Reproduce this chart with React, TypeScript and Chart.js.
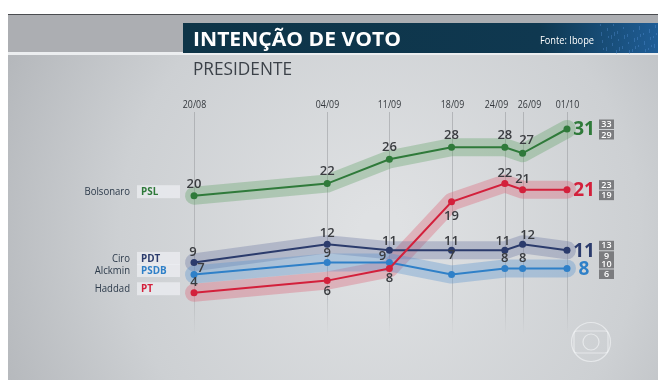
import React, { useEffect, useRef } from "react";
import { Chart, registerables } from "chart.js";

Chart.register(...registerables);

// ---- data ----
const dateLabels = ["20/08", "04/09", "11/09", "18/09", "24/09", "26/09", "01/10"];
const dayOffsets = [0, 15, 22, 29, 35, 37, 42]; // days since 20/08
const candidates = ["Bolsonaro", "Haddad", "Ciro", "Alckmin"];
const parties = ["PSL", "PT", "PDT", "PSDB"];
const bolsonaro = [20, 22, 26, 28, 28, 27, 31];
const haddad = [4, 6, 8, 19, 22, 21, 21];
const ciro = [9, 12, 11, 11, 11, 12, 11];
const alckmin = [7, 9, 9, 7, 8, 8, 8];
const upperBound = [33, 23, 13, 10];
const lowerBound = [29, 19, 9, 6];
const titleText = "INTENÇÃO DE VOTO";
const subtitleText = "PRESIDENTE";
const sourceText = "Fonte: Ibope";

// ---- styles ----
const lineColors = ["#2f7a3a", "#d3203b", "#2b3b6c", "#2f80c8"];
const bandColors = [
  "rgba(95,160,100,0.35)",
  "rgba(220,95,115,0.35)",
  "rgba(95,110,155,0.32)",
  "rgba(85,145,205,0.35)",
];
const dateLabelShift = [0, 0, 0, 0, -9, 6, 0];
// label offsets [dx, dy] per point (styling only)
const labelOffsets = [
  [[0, -11], [0, -12], [0, -12], [0, -12], [0, -12], [4, -13]],
  [[0, -10], [0, 11], [0, 10], [0, 15], [0, -10], [0, -10]],
  [[-1, -10], [0, -11], [0, -9], [0, -9], [-2, -9], [5, -9]],
  [[7, -6], [0, -9], [-7, -6], [0, -19], [0, -10], [0, -10]],
];

const seriesValues = [bolsonaro, haddad, ciro, alckmin];

function fitText(ctx: CanvasRenderingContext2D, text: string, x: number, y: number, width: number) {
  const w = ctx.measureText(text).width;
  const sx = width / w;
  ctx.save();
  ctx.translate(x, y);
  ctx.scale(sx, 1);
  ctx.textAlign = "left";
  ctx.fillText(text, 0, 0);
  ctx.restore();
}

function squeezeText(
  ctx: CanvasRenderingContext2D,
  text: string,
  x: number,
  y: number,
  sx: number,
  align: "left" | "right" | "center"
) {
  ctx.save();
  ctx.translate(x, y);
  ctx.scale(sx, 1);
  ctx.textAlign = align;
  ctx.fillText(text, 0, 0);
  ctx.restore();
}

const decoPlugin = {
  id: "deco",
  beforeDraw(chart: any) {
    const ctx: CanvasRenderingContext2D = chart.ctx;
    const W = chart.width;
    const H = chart.height;
    const xs = chart.scales.x;
    const ys = chart.scales.y;
    ctx.save();
    ctx.fillStyle = "#ffffff";
    ctx.fillRect(0, 0, W, H);
    const g = ctx.createRadialGradient(380, 230, 20, 380, 230, 420);
    g.addColorStop(0, "#dfe1e3");
    g.addColorStop(0.6, "#cdd0d3");
    g.addColorStop(1, "#b3b6ba");
    ctx.fillStyle = g;
    ctx.fillRect(8, 54, 650, 326);
    ctx.fillStyle = "#acaeb2";
    ctx.fillRect(8, 14, 650, 39);
    ctx.fillStyle = "#4a4c50";
    ctx.fillRect(8, 14, 650, 1);
    ctx.fillStyle = "#eceef0";
    ctx.fillRect(8, 52, 650, 3);
    const tg = ctx.createLinearGradient(183, 0, 658, 0);
    tg.addColorStop(0, "#0e3447");
    tg.addColorStop(0.75, "#0f3850");
    tg.addColorStop(1, "#1f5d96");
    ctx.fillStyle = tg;
    ctx.fillRect(183, 23, 475, 30);
    ctx.fillStyle = "rgba(90,150,220,0.35)";
    for (let i = 0; i < 40; i++) {
      const x = 600 + ((i * 37) % 58);
      const y = 24 + ((i * 13) % 27);
      ctx.fillRect(x, y, 1, 2 + (i % 3));
    }
    ctx.fillStyle = "#ffffff";
    ctx.textBaseline = "alphabetic";
    ctx.font = 'bold 19px "Open Sans", sans-serif';
    fitText(ctx, titleText, 193, 46, 208);
    ctx.font = '10px "Open Sans", sans-serif';
    ctx.textBaseline = "middle";
    fitText(ctx, sourceText, 540, 41.5, 54);
    ctx.textBaseline = "alphabetic";
    ctx.fillStyle = "#3b4148";
    ctx.font = '18px "Open Sans", sans-serif';
    fitText(ctx, subtitleText, 193, 75, 99);

    dayOffsets.forEach((d, i) => {
      const x = Math.round(xs.getPixelForValue(d)) + 0.5;
      const lg = ctx.createLinearGradient(0, 112, 0, 335);
      lg.addColorStop(0, "rgba(150,152,156,0.55)");
      lg.addColorStop(0.8, "rgba(150,152,156,0.45)");
      lg.addColorStop(1, "rgba(150,152,156,0)");
      ctx.strokeStyle = lg;
      ctx.lineWidth = 1;
      ctx.beginPath();
      ctx.moveTo(x, 112);
      ctx.lineTo(x, 335);
      ctx.stroke();
      ctx.fillStyle = "#33373c";
      ctx.font = '11px "Open Sans", sans-serif';
      ctx.textBaseline = "middle";
      squeezeText(ctx, dateLabels[i], x + dateLabelShift[i], 105, 0.8, "center");
    });

    seriesValues.forEach((vals, s) => {
      const y = ys.getPixelForValue(vals[0]) - 4;
      ctx.fillStyle = "rgba(236,238,241,0.75)";
      ctx.fillRect(137, y - 6.5, 43, 13);
      ctx.font = '11px "Open Sans", sans-serif';
      ctx.fillStyle = "#2c3a4a";
      ctx.textBaseline = "middle";
      squeezeText(ctx, candidates[s], 130, y, 0.87, "right");
      ctx.font = 'bold 11px "Open Sans", sans-serif';
      ctx.fillStyle = lineColors[s];
      squeezeText(ctx, parties[s], 141, y, 0.9, "left");
    });
    ctx.restore();
  },
  afterDatasetsDraw(chart: any) {
    const ctx: CanvasRenderingContext2D = chart.ctx;
    const xs = chart.scales.x;
    const ys = chart.scales.y;
    ctx.save();
    ctx.textBaseline = "middle";
    seriesValues.forEach((vals, s) => {
      ctx.font = '600 13px "Open Sans", sans-serif';
      ctx.fillStyle = "#3a3c40";
      ctx.textAlign = "center";
      for (let i = 0; i < vals.length - 1; i++) {
        const x = xs.getPixelForValue(dayOffsets[i]);
        const y = ys.getPixelForValue(vals[i]);
        const [dx, dy] = labelOffsets[s][i];
        ctx.fillText(String(vals[i]), x + dx, y + dy);
      }
      const last = vals.length - 1;
      const lx = xs.getPixelForValue(dayOffsets[last]);
      const ly = ys.getPixelForValue(vals[last]);
      ctx.font = 'bold 19px "Open Sans", sans-serif';
      ctx.fillStyle = lineColors[s];
      ctx.fillText(String(vals[last]), lx + 17, ly + 1);
      ctx.fillStyle = "#7b7c7f";
      ctx.fillRect(lx + 32, ly - 9.5, 15, 9.5);
      ctx.fillRect(lx + 32, ly + 1, 15, 9.5);
      ctx.fillStyle = "#ffffff";
      ctx.font = '600 9px "Open Sans", sans-serif';
      ctx.fillText(String(upperBound[s]), lx + 39.5, ly - 4.5);
      ctx.fillText(String(lowerBound[s]), lx + 39.5, ly + 6);
    });
    ctx.strokeStyle = "rgba(245,246,248,0.6)";
    ctx.lineWidth = 1.2;
    ctx.beginPath();
    ctx.arc(591, 342, 19.5, 0, Math.PI * 2);
    ctx.stroke();
    ctx.beginPath();
    (ctx as any).roundRect(574, 331, 34, 22, 3);
    ctx.stroke();
    ctx.beginPath();
    ctx.arc(591, 342, 8, 0, Math.PI * 2);
    ctx.stroke();
    ctx.restore();
  },
};

export default function App() {
  const ref = useRef<HTMLCanvasElement>(null);
  useEffect(() => {
    document.body.style.margin = "0";
    const toPts = (vals: number[]) => dayOffsets.map((d, i) => ({ x: d, y: vals[i] }));
    const bands = seriesValues.map((vals, s) => ({
      label: candidates[s] + " band",
      data: toPts(vals),
      borderColor: bandColors[s],
      borderWidth: 18,
      borderCapStyle: "round" as const,
      borderJoinStyle: "round" as const,
      pointRadius: 0,
      tension: 0,
      clip: false as any,
      order: 10 + (3 - s),
    }));
    const lines = seriesValues.map((vals, s) => ({
      label: candidates[s],
      data: toPts(vals),
      borderColor: lineColors[s],
      backgroundColor: lineColors[s],
      borderWidth: 2,
      pointRadius: 3.5,
      pointBorderWidth: 0,
      tension: 0,
      clip: false as any,
      order: s === 1 ? 0 : 1 + s,
    }));
    const chart = new Chart(ref.current!, {
      type: "line",
      data: { datasets: [...bands, ...lines] as any },
      options: {
        responsive: false,
        animation: false,
        layout: { padding: { left: 194, right: 99, top: 129, bottom: 75 } },
        scales: {
          x: { type: "linear", min: 0, max: 42, display: false },
          y: { min: 0, max: 31, display: false },
        },
        plugins: { legend: { display: false }, tooltip: { enabled: false }, title: { display: false } },
        events: [],
      },
      plugins: [decoPlugin],
    });
    return () => chart.destroy();
  }, []);
  return (
    <div style={{ width: 666, height: 392 }}>
      <canvas ref={ref} width={666} height={392} style={{ display: "block" }} />
    </div>
  );
}
